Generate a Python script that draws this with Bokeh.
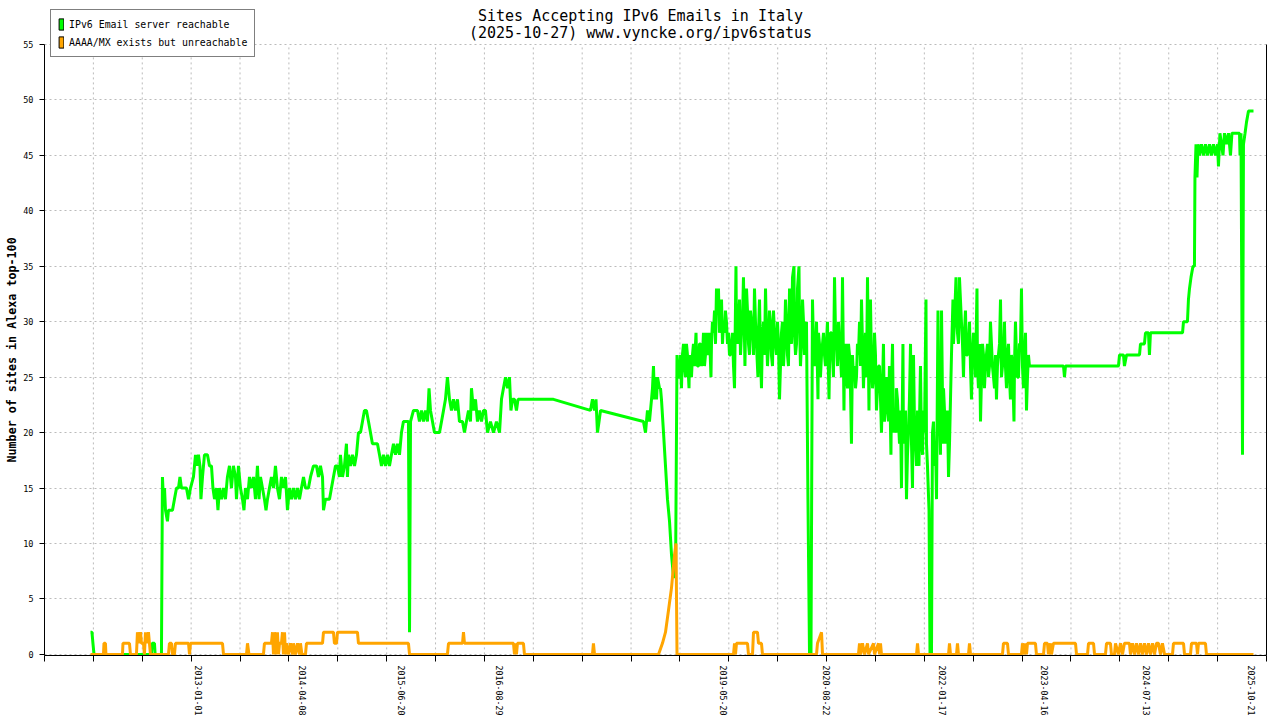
import pandas as pd
from bokeh.plotting import figure
from bokeh.models import (FixedTicker, Range1d, LinearAxis, Legend, LegendItem, Label, Title)
from bokeh.embed import file_html
from bokeh.resources import INLINE

TITLE = "Sites Accepting IPv6 Emails in Italy"
SUBTITLE = "(2025-10-27) www.vyncke.org/ipv6status"
Y_LABEL = "Number of sites in Alexa top-100"
SERIES_NAMES = ["IPv6 Email server reachable", "AAAA/MX exists but unreachable"]
GREEN = "#00ff00"
ORANGE = "#ffa500"

x_label_dates = ["2013-01-01", "2014-04-08", "2015-06-20", "2016-08-29", "2019-05-20",
                 "2020-08-22", "2022-01-17", "2023-04-16", "2024-07-13", "2025-10-21"]
y_ticks = [0, 5, 10, 15, 20, 25, 30, 35, 40, 45, 50, 55]

# time in decimal years
green_t = [
    2011.687, 2011.705, 2011.717, 2011.730, 2012.428, 2012.437, 2012.465, 2012.473, 2012.550, 2012.562,
    2012.574, 2012.587, 2012.599, 2012.623, 2012.635, 2012.684, 2012.708, 2012.733, 2012.757, 2012.775,
    2012.793, 2012.854, 2012.879, 2012.903, 2012.939, 2012.964, 2012.982, 2013.000, 2013.018, 2013.030,
    2013.049, 2013.073, 2013.109, 2013.134, 2013.158, 2013.176, 2013.195, 2013.219, 2013.237, 2013.255,
    2013.280, 2013.304, 2013.328, 2013.352, 2013.377, 2013.401, 2013.425, 2013.450, 2013.462, 2013.486,
    2013.511, 2013.535, 2013.553, 2013.571, 2013.596, 2013.620, 2013.644, 2013.669, 2013.693, 2013.717,
    2013.736, 2013.754, 2013.778, 2013.802, 2013.821, 2013.839, 2013.863, 2013.887, 2013.912, 2013.936,
    2013.960, 2013.985, 2014.009, 2014.033, 2014.058, 2014.082, 2014.106, 2014.131, 2014.155, 2014.179,
    2014.204, 2014.228, 2014.252, 2014.277, 2014.301, 2014.337, 2014.362, 2014.398, 2014.435, 2014.459,
    2014.483, 2014.508, 2014.520, 2014.544, 2014.593, 2014.617, 2014.641, 2014.666, 2014.690, 2014.714,
    2014.726, 2014.751, 2014.775, 2014.799, 2014.811, 2014.824, 2014.848, 2014.872, 2014.897, 2014.921,
    2014.945, 2014.970, 2014.994, 2015.018, 2015.042, 2015.067, 2015.091, 2015.115, 2015.176, 2015.201,
    2015.225, 2015.249, 2015.274, 2015.298, 2015.322, 2015.346, 2015.371, 2015.395, 2015.419, 2015.444,
    2015.468, 2015.492, 2015.529, 2015.553, 2015.566, 2015.578, 2015.614, 2015.663, 2015.687, 2015.712,
    2015.736, 2015.760, 2015.784, 2015.803, 2015.821, 2015.845, 2015.869, 2015.930, 2015.955, 2015.979,
    2016.003, 2016.027, 2016.052, 2016.076, 2016.100, 2016.125, 2016.149, 2016.173, 2016.210, 2016.234,
    2016.258, 2016.283, 2016.307, 2016.319, 2016.343, 2016.368, 2016.392, 2016.416, 2016.441, 2016.465,
    2016.489, 2016.514, 2016.550, 2016.587, 2016.623, 2016.660, 2016.684, 2016.708, 2016.733, 2016.757,
    2016.781, 2016.799, 2016.818, 2016.842, 2016.866, 2016.885, 2017.316, 2017.766, 2017.790, 2017.815,
    2017.833, 2017.851, 2017.870, 2017.888, 2018.410, 2018.435, 2018.459, 2018.483, 2018.508, 2018.520,
    2018.532, 2018.544, 2018.556, 2018.569, 2018.581, 2018.605, 2018.617, 2018.629, 2018.654, 2018.678,
    2018.702, 2018.727, 2018.751, 2018.775, 2018.800, 2018.818, 2018.836, 2018.860, 2018.872, 2018.897,
    2018.921, 2018.945, 2018.964, 2018.982, 2019.006, 2019.030, 2019.049, 2019.067, 2019.091, 2019.115,
    2019.140, 2019.164, 2019.188, 2019.213, 2019.231, 2019.249, 2019.274, 2019.298, 2019.322, 2019.334,
    2019.359, 2019.383, 2019.407, 2019.432, 2019.456, 2019.480, 2019.505, 2019.517, 2019.535, 2019.553,
    2019.578, 2019.602, 2019.626, 2019.644, 2019.663, 2019.687, 2019.711, 2019.736, 2019.760, 2019.784,
    2019.802, 2019.821, 2019.845, 2019.869, 2019.894, 2019.918, 2019.942, 2019.966, 2019.991, 2020.015,
    2020.040, 2020.064, 2020.088, 2020.113, 2020.137, 2020.161, 2020.186, 2020.210, 2020.222, 2020.240,
    2020.259, 2020.283, 2020.301, 2020.319, 2020.344, 2020.368, 2020.392, 2020.410, 2020.429, 2020.447,
    2020.465, 2020.490, 2020.514, 2020.532, 2020.550, 2020.575, 2020.599, 2020.623, 2020.647, 2020.666,
    2020.684, 2020.708, 2020.733, 2020.757, 2020.781, 2020.805, 2020.830, 2020.848, 2020.866, 2020.891,
    2020.915, 2020.939, 2020.964, 2020.988, 2021.012, 2021.037, 2021.061, 2021.085, 2021.109, 2021.134,
    2021.152, 2021.170, 2021.195, 2021.219, 2021.243, 2021.268, 2021.292, 2021.304, 2021.328, 2021.353,
    2021.377, 2021.401, 2021.419, 2021.438, 2021.462, 2021.480, 2021.498, 2021.523, 2021.547, 2021.565,
    2021.584, 2021.608, 2021.632, 2021.657, 2021.681, 2021.693, 2021.717, 2021.742, 2021.760, 2021.778,
    2021.803, 2021.827, 2021.845, 2021.863, 2021.882, 2021.894, 2021.912, 2021.924, 2021.949, 2021.973,
    2021.991, 2022.009, 2022.034, 2022.052, 2022.070, 2022.094, 2022.119, 2022.143, 2022.155, 2022.173,
    2022.191, 2022.210, 2022.228, 2022.252, 2022.276, 2022.301, 2022.325, 2022.349, 2022.374, 2022.398,
    2022.422, 2022.447, 2022.465, 2022.483, 2022.508, 2022.532, 2022.556, 2022.580, 2022.605, 2022.629,
    2022.653, 2022.678, 2022.702, 2022.726, 2022.751, 2022.775, 2022.799, 2022.824, 2022.848, 2022.872,
    2022.897, 2022.915, 2022.933, 2022.957, 2022.982, 2023.006, 2023.030, 2023.055, 2023.067, 2023.091,
    2023.103, 2023.517, 2023.529, 2023.541, 2024.185, 2024.198, 2024.246, 2024.258, 2024.283, 2024.441,
    2024.453, 2024.501, 2024.514, 2024.550, 2024.562, 2024.574, 2024.964, 2024.976, 2025.024, 2025.036,
    2025.049, 2025.067, 2025.091, 2025.109, 2025.115, 2025.128, 2025.140, 2025.152, 2025.170, 2025.194,
    2025.219, 2025.243, 2025.267, 2025.292, 2025.316, 2025.340, 2025.365, 2025.389, 2025.401, 2025.419,
    2025.438, 2025.456, 2025.474, 2025.499, 2025.523, 2025.547, 2025.565, 2025.657, 2025.663, 2025.675,
    2025.685, 2025.693, 2025.705, 2025.724, 2025.742, 2025.766, 2025.827,
]
green_v = [
    2, 2, 1, 0, 0, 1, 1, 0, 0, 16,
    14, 15, 13, 12, 13, 13, 14, 15, 15, 16,
    15, 15, 14, 15, 16, 18, 17, 18, 17, 14,
    16, 18, 18, 17, 17, 15, 14, 15, 13, 15,
    14, 15, 14, 16, 17, 15, 17, 16, 14, 17,
    15, 14, 13, 15, 14, 16, 15, 16, 14, 17,
    14, 16, 15, 14, 13, 14, 15, 16, 15, 17,
    15, 14, 16, 15, 16, 13, 15, 14, 15, 14,
    15, 14, 15, 16, 15, 15, 16, 17, 17, 16,
    17, 16, 13, 14, 14, 15, 16, 17, 17, 16,
    18, 16, 17, 19, 16, 18, 17, 18, 17, 18,
    20, 20, 21, 22, 22, 21, 20, 19, 19, 18,
    17, 18, 17, 18, 17, 18, 19, 18, 19, 18,
    20, 21, 21, 21, 2, 21, 22, 22, 21, 22,
    21, 22, 21, 24, 22, 21, 20, 20, 21, 22,
    23, 25, 23, 22, 23, 22, 23, 21, 21, 20,
    21, 22, 21, 24, 22, 23, 21, 22, 21, 22,
    22, 20, 21, 20, 21, 20, 23, 24, 25, 24,
    25, 22, 23, 23, 22, 23, 23, 22, 23, 22,
    23, 20, 21, 22, 21, 20, 22, 21, 23, 24,
    26, 23, 25, 23, 25, 24, 24, 23, 20, 17,
    14, 12, 9, 7, 7, 27, 25, 27, 24, 28,
    25, 27, 24, 26, 27, 26, 29, 26, 28, 26,
    29, 27, 28, 29, 25, 30, 31, 33, 33, 29,
    32, 30, 31, 28, 27, 28, 26, 24, 35, 28,
    32, 29, 34, 26, 33, 28, 31, 29, 33, 28,
    25, 32, 24, 30, 33, 26, 31, 27, 31, 28,
    30, 23, 29, 26, 32, 27, 33, 28, 34, 35,
    27, 33, 35, 26, 32, 27, 30, 14, 0, 0,
    32, 26, 30, 23, 28, 27, 29, 26, 30, 23,
    29, 27, 34, 28, 30, 27, 34, 22, 28, 24,
    27, 19, 25, 24, 28, 30, 32, 24, 29, 34,
    22, 32, 24, 29, 22, 26, 23, 20, 28, 22,
    24, 26, 18, 28, 22, 20, 23, 19, 15, 28,
    21, 14, 20, 28, 15, 27, 19, 22, 17, 26,
    18, 20, 32, 17, 13, 0, 0, 20, 17, 14,
    31, 22, 31, 19, 22, 20, 16, 23, 27, 32,
    30, 34, 29, 34, 30, 25, 31, 27, 30, 23,
    29, 25, 33, 24, 21, 28, 24, 27, 25, 30,
    26, 24, 23, 27, 32, 26, 30, 24, 28, 23,
    26, 21, 30, 25, 28, 33, 24, 29, 22, 27,
    26, 26, 25, 26, 26, 27, 27, 26, 27, 27,
    28, 28, 29, 29, 27, 29, 29, 30, 30, 32,
    33, 34, 35, 35, 43, 46, 43, 46, 45, 46,
    45, 46, 45, 46, 45, 46, 45, 46, 44, 47,
    46, 45, 47, 46, 47, 45, 47, 47, 45, 47,
    32, 18, 46, 47, 48, 49, 49,
]

# additional daily readings inside the dense 2018-2023 band
green_fill_t = [
    2018.824, 2018.848, 2018.884, 2018.909, 2018.933, 2018.970, 2018.994, 2019.018, 2019.055, 2019.079,
    2019.103, 2019.128, 2019.152, 2019.176, 2019.201, 2019.237, 2019.261, 2019.286, 2019.310, 2019.347,
    2019.371, 2019.395, 2019.419, 2019.444, 2019.468, 2019.492, 2019.541, 2019.565, 2019.590, 2019.614,
    2019.650, 2019.675, 2019.699, 2019.723, 2019.748, 2019.772, 2019.809, 2019.833, 2019.857, 2019.882,
    2019.906, 2019.930, 2019.954, 2019.979, 2020.003, 2020.027, 2020.052, 2020.076, 2020.100, 2020.125,
    2020.149, 2020.173, 2020.198, 2020.246, 2020.271, 2020.307, 2020.331, 2020.356, 2020.380, 2020.477,
    2020.502, 2020.538, 2020.562, 2020.587, 2020.611, 2020.635, 2020.672, 2020.696, 2020.720, 2020.745,
    2020.769, 2020.793, 2020.818, 2020.854, 2020.878, 2020.903, 2020.927, 2020.951, 2020.976, 2021.000,
    2021.024, 2021.049, 2021.073, 2021.097, 2021.122, 2021.158, 2021.183, 2021.207, 2021.231, 2021.255,
    2021.280, 2021.316, 2021.340, 2021.365, 2021.389, 2021.426, 2021.450, 2021.486, 2021.511, 2021.535,
    2021.571, 2021.596, 2021.620, 2021.644, 2021.669, 2021.705, 2021.730, 2021.766, 2021.791, 2021.815,
    2021.851, 2021.936, 2021.961, 2021.997, 2022.021, 2022.058, 2022.082, 2022.106, 2022.131, 2022.179,
    2022.216, 2022.240, 2022.264, 2022.289, 2022.313, 2022.337, 2022.362, 2022.386, 2022.410, 2022.435,
    2022.471, 2022.496, 2022.520, 2022.544, 2022.568, 2022.593, 2022.617, 2022.641, 2022.666, 2022.690,
    2022.714, 2022.739, 2022.763, 2022.787, 2022.811, 2022.836, 2022.860, 2022.884, 2022.921, 2022.945,
    2022.970, 2022.994, 2023.018, 2023.043, 2023.079,
]
green_fill_v = [
    26, 25, 27, 26, 28, 27, 25, 28, 27, 26,
    28, 27, 26, 29, 27, 28, 29, 28, 31, 30,
    28, 29, 30, 29, 27, 29, 29, 30, 27, 30,
    29, 31, 27, 30, 27, 30, 29, 27, 29, 27,
    29, 28, 30, 26, 29, 27, 28, 26, 30, 28,
    30, 26, 30, 29, 28, 30, 28, 30, 28, 28,
    27, 29, 25, 28, 27, 28, 26, 29, 25, 29,
    26, 28, 25, 27, 25, 28, 24, 27, 26, 25,
    27, 26, 28, 27, 25, 27, 26, 25, 27, 24,
    26, 24, 21, 25, 21, 24, 20, 24, 21, 22,
    19, 22, 18, 23, 19, 21, 17, 21, 19, 22,
    19, 21, 19, 23, 18, 24, 19, 22, 19, 28,
    31, 28, 32, 28, 29, 27, 28, 26, 27, 28,
    26, 28, 25, 27, 26, 28, 26, 28, 25, 27,
    26, 28, 25, 27, 26, 27, 25, 27, 26, 27,
    25, 28, 26, 27, 25,
]

orange_t = [
    2011.687, 2011.845, 2011.851, 2011.869, 2011.875, 2012.076, 2012.082, 2012.161, 2012.173, 2012.246,
    2012.258, 2012.270, 2012.295, 2012.307, 2012.331, 2012.343, 2012.356, 2012.368, 2012.392, 2012.404,
    2012.416, 2012.635, 2012.647, 2012.672, 2012.684, 2012.708, 2012.720, 2012.879, 2012.891, 2012.903,
    2013.292, 2013.304, 2013.584, 2013.596, 2013.614, 2013.790, 2013.802, 2013.887, 2013.900, 2013.912,
    2013.924, 2013.936, 2013.948, 2013.960, 2013.973, 2013.985, 2014.009, 2014.021, 2014.033, 2014.046,
    2014.058, 2014.070, 2014.094, 2014.119, 2014.143, 2014.155, 2014.179, 2014.204, 2014.228, 2014.240,
    2014.258, 2014.301, 2014.313, 2014.508, 2014.520, 2014.641, 2014.653, 2014.678, 2014.690, 2014.933,
    2014.945, 2015.553, 2015.566, 2016.027, 2016.040, 2016.210, 2016.222, 2016.234, 2016.830, 2016.842,
    2016.854, 2016.866, 2016.878, 2016.951, 2016.963, 2017.790, 2017.802, 2017.815, 2018.593, 2018.641,
    2018.678, 2018.715, 2018.751, 2018.788, 2018.806, 2018.818, 2019.505, 2019.517, 2019.529, 2019.541,
    2019.675, 2019.687, 2019.736, 2019.748, 2019.796, 2019.809, 2019.845, 2019.857, 2020.514, 2020.526,
    2020.575, 2020.587, 2021.024, 2021.037, 2021.049, 2021.073, 2021.097, 2021.134, 2021.146, 2021.207,
    2021.219, 2021.268, 2021.280, 2021.292, 2021.304, 2021.730, 2021.742, 2021.754, 2022.119, 2022.131,
    2022.143, 2022.216, 2022.228, 2022.240, 2022.362, 2022.374, 2022.386, 2022.775, 2022.787, 2022.836,
    2022.848, 2023.006, 2023.018, 2023.043, 2023.055, 2023.067, 2023.079, 2023.176, 2023.188, 2023.274,
    2023.286, 2023.322, 2023.334, 2023.359, 2023.371, 2023.395, 2023.663, 2023.675, 2023.809, 2023.821,
    2023.882, 2023.894, 2024.027, 2024.040, 2024.088, 2024.100, 2024.137, 2024.149, 2024.185, 2024.210,
    2024.234, 2024.258, 2024.319, 2024.331, 2024.356, 2024.380, 2024.404, 2024.429, 2024.453, 2024.477,
    2024.501, 2024.526, 2024.550, 2024.574, 2024.599, 2024.623, 2024.647, 2024.672, 2024.696, 2024.720,
    2024.745, 2024.842, 2024.854, 2024.976, 2024.988, 2025.061, 2025.073, 2025.134, 2025.146, 2025.158,
    2025.243, 2025.255, 2025.827,
]
orange_v = [
    0, 0, 1, 1, 0, 0, 1, 1, 0, 0,
    2, 1, 2, 1, 1, 0, 2, 1, 2, 1,
    0, 0, 1, 1, 0, 0, 1, 1, 0, 1,
    1, 0, 0, 1, 0, 0, 1, 1, 2, 0,
    2, 1, 0, 2, 0, 1, 1, 2, 0, 2,
    0, 1, 0, 1, 0, 1, 0, 1, 0, 1,
    0, 0, 1, 1, 2, 2, 1, 1, 2, 2,
    1, 1, 0, 0, 1, 1, 2, 1, 1, 0,
    1, 0, 1, 1, 0, 0, 1, 0, 0, 1,
    2, 4, 6, 9, 10, 0, 0, 1, 0, 1,
    1, 0, 0, 2, 2, 1, 1, 0, 0, 1,
    2, 0, 0, 1, 0, 1, 0, 1, 0, 1,
    0, 1, 0, 1, 0, 0, 1, 0, 0, 1,
    0, 0, 1, 0, 0, 1, 0, 0, 1, 1,
    0, 0, 1, 0, 1, 0, 1, 1, 0, 0,
    1, 1, 0, 1, 0, 1, 1, 0, 0, 1,
    1, 0, 0, 1, 1, 0, 0, 1, 0, 1,
    0, 1, 1, 0, 1, 0, 1, 0, 1, 0,
    1, 0, 1, 0, 1, 0, 1, 1, 0, 1,
    0, 0, 1, 1, 0, 0, 1, 1, 0, 1,
    1, 0, 0,
]

assert len(green_t) == len(green_v)
assert len(green_fill_t) == len(green_fill_v)
assert len(orange_t) == len(orange_v)

# merge the two green readings lists in time order
green_pts = sorted(zip(green_t + green_fill_t, green_v + green_fill_v), key=lambda a: a[0])
green_x = [a[0] for a in green_pts]
green_y = [a[1] for a in green_pts]

X_START, X_END = 2011.128, 2025.985
Y_MAX = 55
N_GRID = 25

W, H = 1280, 720
FRAME_LEFT, FRAME_RIGHT, FRAME_BOTTOM = 44, 14, 65
PX_PER_UNIT = 11.09          # vertical pixels per site
Y_TOP = Y_MAX + 44 / PX_PER_UNIT   # frame reaches to the canvas top, 55 sits 44px below it
NAN = float("nan")


def dec_year(s):
    d = pd.Timestamp(s)
    a = pd.Timestamp(year=d.year, month=1, day=1)
    b = pd.Timestamp(year=d.year + 1, month=1, day=1)
    return d.year + (d - a) / (b - a)


label_pos = [dec_year(s) for s in x_label_dates]
grid_pos = [X_START + k * (X_END - X_START) / N_GRID for k in range(N_GRID + 1)]

MONO = "DejaVu Sans Mono"

p = figure(width=W, height=H, x_range=Range1d(X_START, X_END), y_range=Range1d(-0.1, Y_TOP),
           output_backend="svg", toolbar_location=None,
           min_border_left=FRAME_LEFT, min_border_right=FRAME_RIGHT, min_border_top=0,
           min_border_bottom=FRAME_BOTTOM,
           background_fill_color="white", border_fill_color="white", outline_line_color=None)

# title (two lines, centred on the canvas)
x_center = X_START + (W / 2 - FRAME_LEFT) / (W - FRAME_LEFT - FRAME_RIGHT) * (X_END - X_START)
for txt, top_px in ((TITLE, 16), (SUBTITLE, 33)):
    p.add_layout(Label(x=x_center, y=Y_TOP - top_px / PX_PER_UNIT, text=txt,
                       text_align="center", text_baseline="alphabetic",
                       text_font=MONO, text_font_size="15px", text_color="black"))

# vertical grid (only up to the top tick)
p.xgrid.visible = False
p.segment(x0=grid_pos[1:-1], y0=[0] * (N_GRID - 1), x1=grid_pos[1:-1], y1=[Y_MAX] * (N_GRID - 1),
          line_color="#bbbbbb", line_dash="2 3", line_width=1)
yg = p.ygrid[0]
yg.grid_line_color = "#bbbbbb"
yg.grid_line_dash = "2 3"
yg.grid_line_width = 1

# lines
p.line(green_x, green_y, line_color=GREEN, line_width=3)
p.line(orange_t, orange_v, line_color=ORANGE, line_width=3)

# x axis
xa = p.xaxis[0]
xa.axis_label = None
xa.ticker = FixedTicker(ticks=label_pos, minor_ticks=grid_pos)
xa.major_label_overrides = {pos: s for pos, s in zip(label_pos, x_label_dates)}
xa.major_label_orientation = "vertical"
xa.major_tick_out = 0
xa.major_tick_in = 0
xa.minor_tick_out = 6
xa.minor_tick_in = 0
xa.minor_tick_line_color = "black"
xa.major_label_standoff = 4
xa.major_label_text_font = MONO
xa.major_label_text_font_size = "8.3px"
xa.major_label_text_color = "black"
xa.axis_line_color = "black"

# y axis
ya = p.yaxis[0]
ya.bounds = (-0.1, Y_MAX)
ya.ticker = FixedTicker(ticks=y_ticks)
ya.major_tick_out = 5
ya.major_tick_in = 0
ya.minor_tick_line_color = None
ya.major_label_standoff = 6
ya.major_label_text_font = MONO
ya.major_label_text_font_size = "8.5px"
ya.major_label_text_color = "black"
ya.axis_line_color = "black"
ya.major_tick_line_color = "black"
ya.axis_label = None

# y axis title, centred on the 0..55 span (starts 193px above the frame bottom)
p.add_layout(Title(text=Y_LABEL, align="left", offset=193, vertical_align="middle",
                   text_font=MONO, text_font_size="11.7px", text_font_style="bold",
                   text_color="black", standoff=2), "left")

# right frame line
ra = LinearAxis(ticker=FixedTicker(ticks=[]), major_label_text_font_size="0px", bounds=(-0.1, Y_MAX),
                major_tick_out=0, major_tick_in=0, minor_tick_out=0, minor_tick_in=0,
                major_label_standoff=0, axis_line_color="black", axis_label=None)
p.add_layout(ra, "right")

# legend with box glyphs
rg = p.quad(left=[NAN], right=[NAN], top=[NAN], bottom=[NAN], fill_color=GREEN, line_color="black")
ro = p.quad(left=[NAN], right=[NAN], top=[NAN], bottom=[NAN], fill_color=ORANGE, line_color="black")
legend = Legend(items=[LegendItem(label=SERIES_NAMES[0], renderers=[rg]),
                       LegendItem(label=SERIES_NAMES[1], renderers=[ro])],
                location=(6, 598), orientation="vertical", padding=7, spacing=4,
                glyph_width=6, glyph_height=14, label_height=14, label_standoff=5,
                label_text_font=MONO, label_text_font_size="9.9px", label_text_color="black",
                border_line_color="black", border_line_width=1,
                background_fill_color="white", background_fill_alpha=1.0, margin=0)
p.add_layout(legend, "center")

open("out.html", "w").write(file_html(p, INLINE))
